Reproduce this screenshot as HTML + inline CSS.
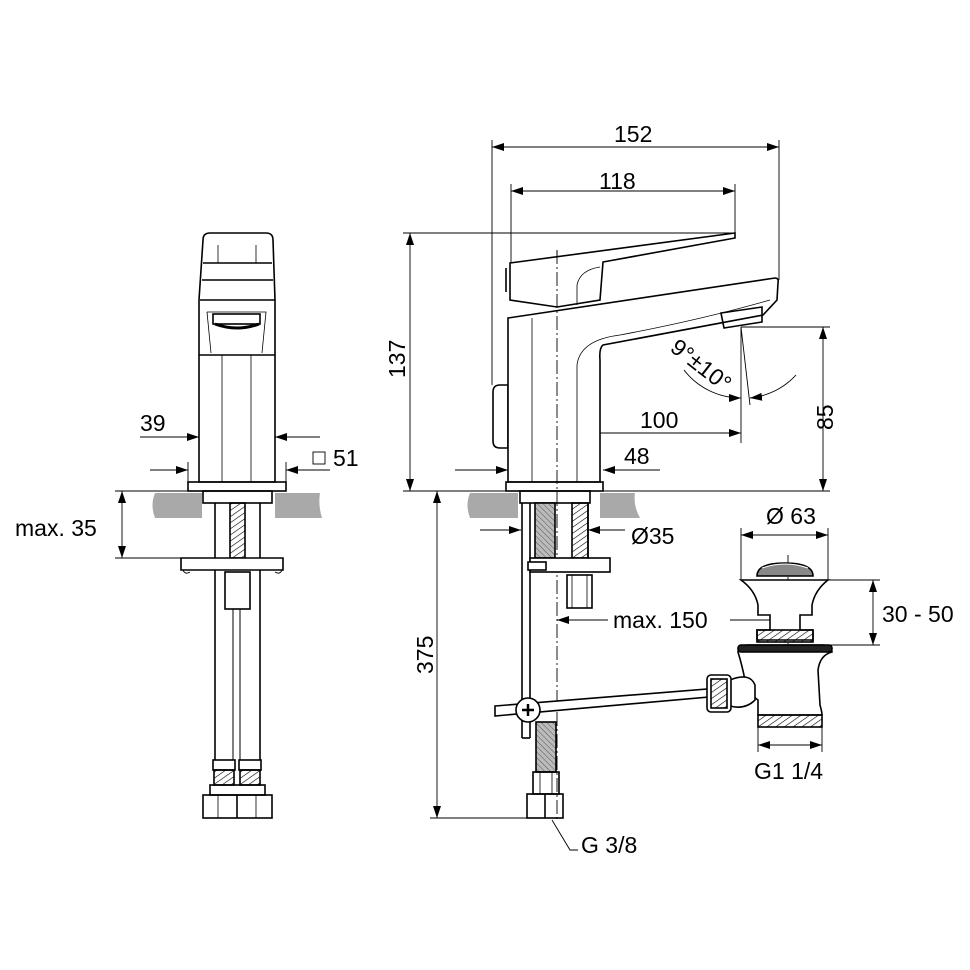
<!DOCTYPE html>
<html><head><meta charset="utf-8"><style>
html,body{margin:0;padding:0;background:#fff;}
svg{display:block;}
text{font-family:"Liberation Sans",sans-serif;font-size:23px;fill:#000;}
</style></head><body>
<svg width="970" height="970" viewBox="0 0 970 970" xmlns="http://www.w3.org/2000/svg">
<defs>
<marker id="a" viewBox="0 0 12 8" refX="12" refY="4" markerWidth="12" markerHeight="8" orient="auto-start-reverse" markerUnits="userSpaceOnUse"><path d="M0,0L12,4L0,8z" fill="#000"/></marker>
<pattern id="h" width="5" height="5" patternUnits="userSpaceOnUse" patternTransform="rotate(-35)"><line x1="0" y1="0" x2="5" y2="0" stroke="#000" stroke-width="1.2"/></pattern>
<pattern id="x" width="4" height="4" patternUnits="userSpaceOnUse" patternTransform="rotate(45)"><rect width="4" height="4" fill="#bbb"/><line x1="0" y1="0" x2="4" y2="0" stroke="#555" stroke-width="1"/></pattern>
</defs>
<g fill="none" stroke="#000" stroke-width="1.6">
<path d="M203,240 Q203,233 210,233 L266,233 Q273,233 273,240 L275,300 L275,482 L199,482 L199,300 Z" fill="#fff"/>
<line x1="203" y1="263" x2="272" y2="263"/>
<line x1="202" y1="280" x2="273" y2="280"/>
<line x1="200" y1="300" x2="275" y2="300"/>
<line x1="199" y1="355" x2="275" y2="355"/>
<line x1="218" y1="245" x2="218" y2="263" stroke-width="0.8"/><line x1="256" y1="245" x2="256" y2="263" stroke-width="0.8"/>
<path d="M207,312 L266,312 L262,353 M207,312 L211,353" stroke-width="0.8"/>
<rect x="213" y="314" width="47" height="10"/><path d="M215,324 Q237,332 259,324" stroke-width="3"/>
<line x1="222" y1="355" x2="222" y2="482" stroke-width="0.8"/><line x1="251" y1="355" x2="251" y2="482" stroke-width="0.8"/>
<rect x="188" y="482" width="98" height="9"/>
<rect x="203" y="491" width="69" height="12"/>
<line x1="215" y1="503" x2="215" y2="760"/><line x1="260" y1="503" x2="260" y2="760"/>
<rect x="230" y="503" width="15" height="55" fill="url(#h)"/>
<path d="M181,558 L283,558 L283,570 L181,570 Z" fill="#fff"/>
<path d="M183,570 Q185,575 190,572 M275,572 Q280,575 282,570" stroke-width="1"/>
<rect x="225" y="572" width="25" height="37"/>
<line x1="233" y1="609" x2="233" y2="760" stroke-width="1"/><line x1="240" y1="609" x2="240" y2="760" stroke-width="1"/>
<rect x="213" y="760" width="22" height="10"/><rect x="239" y="760" width="22" height="10"/>
<rect x="214" y="770" width="20" height="15" fill="url(#h)"/><rect x="240" y="770" width="20" height="15" fill="url(#h)"/>
<rect x="210" y="785" width="55" height="10"/>
<rect x="203" y="795" width="69" height="23"/><line x1="237" y1="795" x2="237" y2="818"/><line x1="218" y1="795" x2="218" y2="818" stroke-width="0.8"/><line x1="256" y1="795" x2="256" y2="818" stroke-width="0.8"/>
</g>
<g fill="#a9a9a9" stroke="none">
<path d="M155,493 L202,493 L202,518 L155,518 Q150,505 155,493Z"/>
<path d="M275,493 L320,493 Q318,505 322,518 L275,518Z"/>
<path d="M470,493 L518,493 L518,518 L470,518 Q465,505 470,493Z"/>
<path d="M600,493 L635,493 Q633,505 640,518 L600,518Z"/>
</g>
<g fill="none" stroke="#000" stroke-width="0.9">
<line x1="140" y1="437" x2="199" y2="437" marker-end="url(#a)"/>
<line x1="320" y1="437" x2="275" y2="437" marker-end="url(#a)"/>
<line x1="150" y1="470" x2="188" y2="470" marker-end="url(#a)"/>
<line x1="330" y1="470" x2="286" y2="470" marker-end="url(#a)"/>
<line x1="188" y1="462" x2="188" y2="482"/><line x1="286" y1="462" x2="286" y2="482"/>
<rect x="313" y="452" width="12" height="12"/>
<line x1="115" y1="491" x2="200" y2="491"/><line x1="115" y1="558" x2="181" y2="558"/>
<line x1="122" y1="491" x2="122" y2="558" marker-start="url(#a)" marker-end="url(#a)"/>
<line x1="492" y1="140" x2="492" y2="385"/><line x1="779" y1="140" x2="779" y2="280"/>
<line x1="492" y1="147" x2="779" y2="147" marker-start="url(#a)" marker-end="url(#a)"/>
<line x1="511" y1="184" x2="511" y2="265"/><line x1="735" y1="184" x2="735" y2="233"/>
<line x1="511" y1="191" x2="735" y2="191" marker-start="url(#a)" marker-end="url(#a)"/>
<line x1="403" y1="233" x2="735" y2="233"/>
<line x1="410" y1="233" x2="410" y2="491" marker-start="url(#a)" marker-end="url(#a)"/>
<line x1="403" y1="491" x2="830" y2="491"/>
<line x1="741" y1="327" x2="830" y2="327"/>
<line x1="823" y1="327" x2="823" y2="491" marker-start="url(#a)" marker-end="url(#a)"/>
<line x1="741" y1="327" x2="741" y2="443"/><line x1="741" y1="327" x2="750" y2="405"/>
<path d="M684,370 A72,72 0 0 0 741,398" marker-end="url(#a)"/>
<path d="M796,375 A72,72 0 0 1 750,398" marker-end="url(#a)"/>
<line x1="557" y1="433" x2="741" y2="433" marker-start="url(#a)" marker-end="url(#a)"/>
<line x1="455" y1="470" x2="508" y2="470" marker-end="url(#a)"/>
<line x1="660" y1="470" x2="603" y2="470" marker-end="url(#a)"/>
<line x1="480" y1="530" x2="521" y2="530" marker-end="url(#a)"/>
<line x1="625" y1="530" x2="588" y2="530" marker-end="url(#a)"/>
<line x1="557" y1="620" x2="608" y2="620" marker-start="url(#a)"/>
<line x1="730" y1="620" x2="788" y2="620" marker-end="url(#a)"/>
<line x1="437" y1="491" x2="437" y2="818" marker-start="url(#a)" marker-end="url(#a)"/>
<line x1="430" y1="818" x2="550" y2="818"/>
<path d="M552,820 L570,850 L578,850"/>
<line x1="741" y1="528" x2="741" y2="580"/><line x1="828" y1="528" x2="828" y2="580"/>
<line x1="741" y1="535" x2="828" y2="535" marker-start="url(#a)" marker-end="url(#a)"/>
<line x1="828" y1="580" x2="880" y2="580"/><line x1="815" y1="645" x2="880" y2="645"/>
<line x1="873" y1="580" x2="873" y2="645" marker-start="url(#a)" marker-end="url(#a)"/>
<line x1="758" y1="725" x2="758" y2="752"/><line x1="822" y1="725" x2="822" y2="752"/>
<line x1="758" y1="745" x2="822" y2="745" marker-start="url(#a)" marker-end="url(#a)"/>
<line x1="557" y1="250" x2="557" y2="820" stroke-dasharray="14,3,2,3"/>
<line x1="788" y1="555" x2="788" y2="680" stroke-dasharray="14,3,2,3"/>
</g>
<g fill="none" stroke="#000" stroke-width="1.6">
<path d="M493,392 Q493,385 500,385 L508,385 L508,448 L500,448 Q493,448 493,441Z"/>
<path d="M508,318 L775,278 Q779,278 778,283 L777,300 L763,315 L603,345 Q599,348 600,360 L600,482 L508,482 Z" fill="#fff"/>
<path d="M577,482 L577,365 Q580,340 620,335 Q700,320 770,300" stroke-width="0.8"/>
<line x1="532" y1="318" x2="532" y2="482" stroke-width="0.8"/>
<path d="M721,313 L762,307 L762,322 L724,328 Z"/>
<path d="M510,263 L735,233 L735,238 L603,262 L600,300 L557,307 L510,300 Z" fill="#fff"/>
<path d="M577,305 L577,285 Q580,270 600,267" stroke-width="0.8"/>
<line x1="506" y1="268" x2="506" y2="292"/>
<line x1="557" y1="250" x2="557" y2="482" stroke-dasharray="14,3,2,3" stroke-width="0.9"/>
<rect x="506" y="482" width="97" height="9"/>
<rect x="520" y="491" width="70" height="12"/>
<line x1="522" y1="503" x2="522" y2="738"/><line x1="530" y1="503" x2="530" y2="738"/>
<line x1="522" y1="738" x2="530" y2="738"/>
<rect x="535" y="503" width="20" height="55" fill="url(#x)"/>
<rect x="572" y="503" width="16" height="55" fill="url(#h)"/>
<line x1="588" y1="503" x2="588" y2="558"/>
<rect x="530" y="558" width="80" height="14" fill="#fff"/>
<rect x="528" y="562" width="18" height="8" fill="#fff"/>
<rect x="567" y="575" width="25" height="33"/>
<line x1="572" y1="575" x2="572" y2="608" stroke-width="0.8"/><line x1="587" y1="575" x2="587" y2="608" stroke-width="0.8"/>
<path d="M495,706 L720,688 L720,696 L495,716 Z" fill="#fff"/>
<circle cx="528" cy="710" r="12" fill="#fff"/><path d="M522,710 L534,710 M528,704 L528,716" stroke-width="2.5"/>
<rect x="536" y="722" width="20" height="50" fill="url(#x)"/>
<rect x="533" y="772" width="26" height="22"/>
<line x1="540" y1="772" x2="540" y2="794" stroke-width="0.8"/><line x1="552" y1="772" x2="552" y2="794" stroke-width="0.8"/>
<rect x="527" y="794" width="36" height="24"/><line x1="545" y1="794" x2="545" y2="818"/>
<path d="M757,576 Q757,563 785,563 Q813,563 813,576 Z" fill="#888"/>
<path d="M762,568 Q785,560 808,568" stroke="#fff" stroke-width="1"/>
<path d="M741,580 L828,580 Q815,590 812,605 L812,615 L800,615 L800,630 L813,630 L813,640 L757,640 L757,630 L770,630 L770,615 L758,615 L758,605 Q755,590 741,580Z" fill="#fff"/>
<rect x="757" y="630" width="56" height="12" fill="url(#h)"/>
<path d="M738,652 Q738,645 748,645 L822,645 Q832,645 832,652 Q820,655 818,670 L820,705 Q822,712 822,715 L758,715 L758,700 Q750,695 745,680 Q742,665 738,652Z" fill="#fff"/>
<rect x="738" y="645" width="94" height="7" fill="#222" rx="3"/>
<rect x="758" y="715" width="64" height="12" fill="url(#h)"/>
<path d="M730,680 Q750,672 755,685 L755,700 Q745,710 730,706 Z" fill="#fff"/>
<rect x="707" y="675" width="24" height="37" rx="4" fill="#fff"/>
<rect x="711" y="679" width="16" height="29" fill="url(#h)"/>
</g>
<g>
<text x="140" y="431">39</text>
<text x="333" y="466">51</text>
<text x="15" y="536">max. 35</text>
<text x="614" y="142">152</text>
<text x="599" y="189">118</text>
<text x="405" y="378" transform="rotate(-90 405 378)">137</text>
<text x="662" y="360" transform="rotate(38 680 365)">9°±10°</text>
<text x="640" y="428">100</text>
<text x="624" y="464">48</text>
<text x="833" y="430" transform="rotate(-90 833 430)">85</text>
<text x="631" y="544">Ø35</text>
<text x="766" y="524">Ø 63</text>
<text x="613" y="628">max. 150</text>
<text x="882" y="622">30 - 50</text>
<text x="433" y="674" transform="rotate(-90 433 674)">375</text>
<text x="754" y="779">G1 1/4</text>
<text x="581" y="853">G 3/8</text>
</g>
</svg>
</body></html>
